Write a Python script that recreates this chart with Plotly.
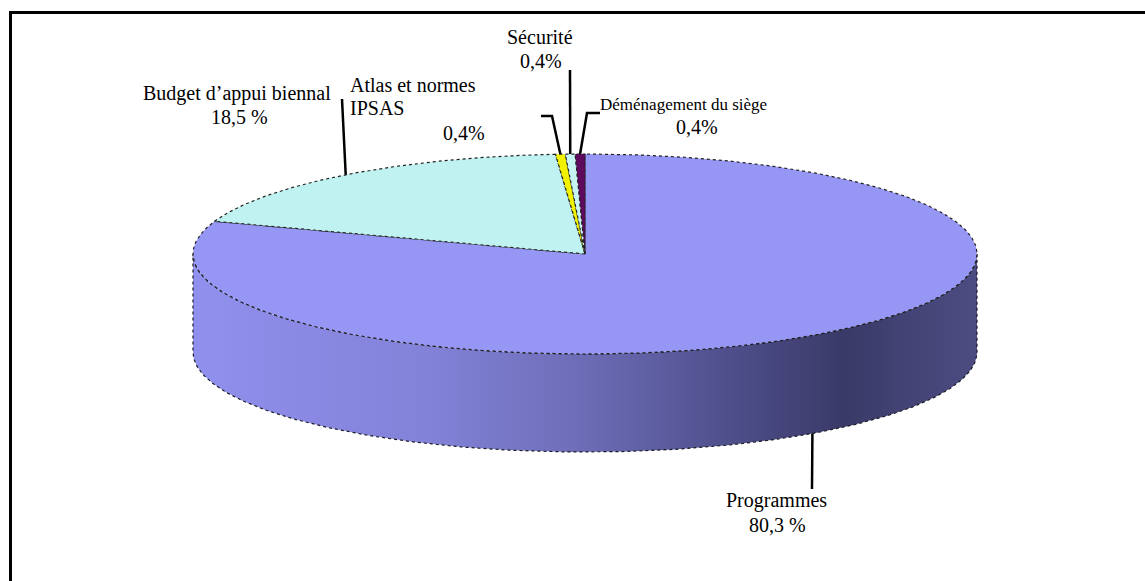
import numpy as np
import plotly.graph_objects as go

# ---------------- data ----------------
labels = ["Programmes", "Budget d’appui biennal", "Atlas et normes IPSAS",
          "Sécurité", "Déménagement du siège"]
values = [80.3, 18.5, 0.4, 0.4, 0.4]
value_text = ["80,3 %", "18,5 %", "0,4%", "0,4%", "0,4%"]
colors = ["#9696F4", "#BFF2F0", "#F2F200", "#C6F5F3", "#5E0A5E"]

# ---------------- geometry (pixels) ----------------
W, H = 1145, 581
CX, CY, RX, RY, DEPTH = 585, 254, 392, 100, 98
FONT = "Liberation Serif"


def rim(phi_deg, dy=0.0):
    p = np.radians(phi_deg)
    return CX + RX * np.sin(p), CY - RY * np.cos(p) + dy


total = float(sum(values))
spans = [v / total * 360.0 for v in values]
starts = np.concatenate([[0.0], np.cumsum(spans)[:-1]])
ends = starts + np.array(spans)

fig = go.Figure()

# ---- side wall (visible front half: phi 90..270) ----
for s, e, c in zip(starts, ends, colors):
    a, b = max(s, 90.0), min(e, 270.0)
    if b <= a:
        continue
    ph = np.linspace(a, b, 200)
    xt, yt = rim(ph)
    xb, yb = rim(ph[::-1], DEPTH)
    xs = np.concatenate([xt, xb, xt[:1]])
    ys = np.concatenate([yt, yb, yt[:1]])
    fig.add_trace(go.Scatter(
        x=xs, y=ys, mode="lines", fill="toself",
        line=dict(color="#1a1a24", width=1.2, dash="dot"),
        fillgradient=dict(type="horizontal", colorscale=[
            [0.0, "#9090EE"], [0.3, "#8282D8"], [0.5, "#6C6CB6"],
            [0.7, "#4C4C88"], [0.83, "#3A3A68"], [1.0, "#4C4C82"]]),
        hoverinfo="skip", showlegend=False))

# ---- top face slices ----
for s, e, c, lab in zip(starts, ends, colors, labels):
    ph = np.linspace(s, e, max(int((e - s) * 3), 4))
    xa, ya = rim(ph)
    xs = np.concatenate([[CX], xa, [CX]])
    ys = np.concatenate([[CY], ya, [CY]])
    fig.add_trace(go.Scatter(
        x=xs, y=ys, mode="lines", fill="toself", fillcolor=c,
        line=dict(color="#222222", width=1.2, dash="dot"),
        name=lab, hoverinfo="name", showlegend=False))

# ---- leader lines (start at slice mid-angle on the rim) ----
mids = (starts + ends) / 2.0
leader_ends = [
    [(812, 489)],               # Programmes (bottom rim)
    [(342, 99)],                # Budget
    [(552, 116), (541, 116)],   # Atlas
    [(570, 70)],                # Sécurité
    [(587, 113), (600, 113)],   # Déménagement
]
for i, (m, pts) in enumerate(zip(mids, leader_ends)):
    dy = DEPTH if 90 < m < 270 else 0
    x0, y0 = rim(m, dy)
    xs = [x0] + [p[0] for p in pts]
    ys = [y0] + [p[1] for p in pts]
    fig.add_trace(go.Scatter(x=xs, y=ys, mode="lines",
                             line=dict(color="black", width=2.5),
                             hoverinfo="skip", showlegend=False))

# ---- labels ----
ann = []


def txt(t, x, y, size=20, xanchor="center"):
    ann.append(dict(text=t, x=x, y=y, xref="x", yref="y", showarrow=False,
                    xanchor=xanchor, yanchor="middle",
                    font=dict(family=FONT, size=size, color="black")))


txt(labels[0], 776, 500)
txt(value_text[0], 777, 525)
txt(labels[1], 237, 93)
txt(value_text[1], 239, 117)
txt("Atlas et normes", 348, 85, xanchor="left")
txt("IPSAS", 348, 108, xanchor="left")
txt(value_text[2], 464, 133)
txt(labels[3], 540, 37)
txt(value_text[3], 541, 61)
txt(labels[4], 683, 104, size=17)
txt(value_text[4], 697, 127)

# ---- frame (top and left edges visible) ----
shapes = [
    dict(type="line", xref="x", yref="y", x0=10, y0=12.5, x1=W + 5, y1=12.5,
         line=dict(color="black", width=3)),
    dict(type="line", xref="x", yref="y", x0=10.5, y0=11, x1=10.5, y1=H + 5,
         line=dict(color="black", width=3)),
]

fig.update_layout(
    width=W, height=H, autosize=False,
    margin=dict(l=0, r=0, t=0, b=0, pad=0),
    paper_bgcolor="white", plot_bgcolor="white",
    font=dict(family=FONT),
    xaxis=dict(range=[0, W], visible=False, fixedrange=True),
    yaxis=dict(range=[H, 0], visible=False, fixedrange=True),
    annotations=ann, shapes=shapes, showlegend=False,
)

fig.write_html("out.html")
